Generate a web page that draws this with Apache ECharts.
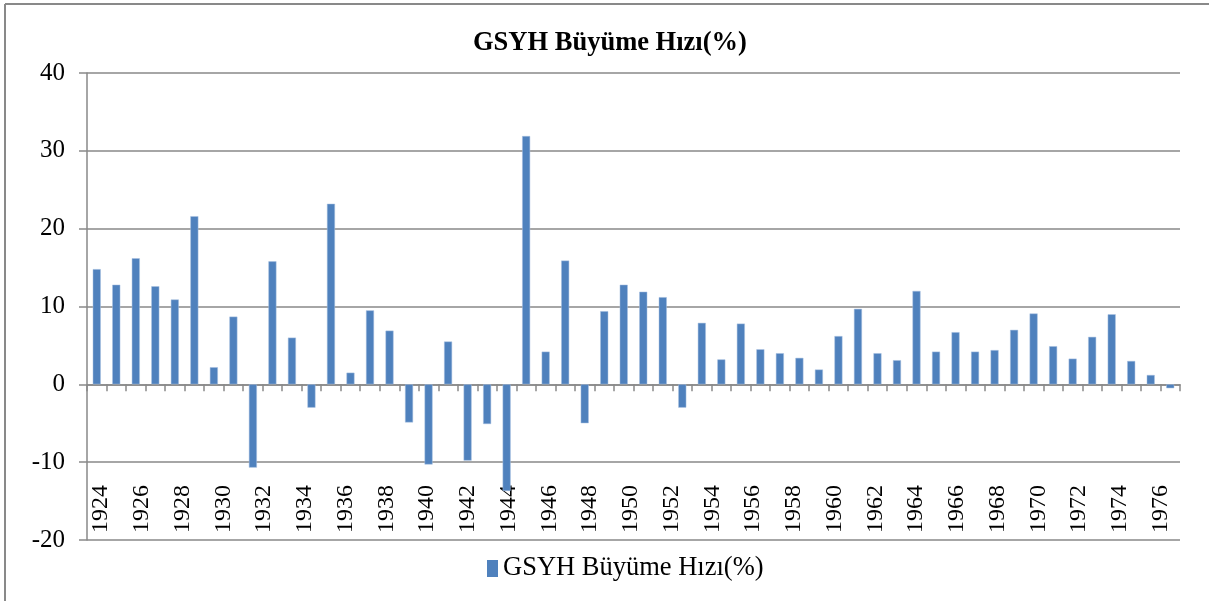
<!DOCTYPE html>
<html>
<head>
<meta charset="utf-8">
<script src="https://cdn.jsdelivr.net/npm/echarts@6/dist/echarts.min.js"></script>
<style>
html,body{margin:0;padding:0;background:#fff;}
#chart{width:1209px;height:601px;}
</style>
</head>
<body>
<div id="chart"></div>
<script>
// Bar categories (one bar per year)
var years = ['1924','1925','1926','1927','1928','1929','1930','1931','1932','1933',
  '1934','1935','1936','1937','1938','1939','1940','1941','1942','1943',
  '1944','1945','1946','1947','1948','1949','1950','1951','1952','1953',
  '1954','1955','1956','1957','1958','1959','1960','1961','1962','1963',
  '1964','1965','1966','1967','1968','1969','1970','1971','1972','1973',
  '1974','1975','1976','1977','1978','1979'];
// GSYH Büyüme Hızı (%)
var growth = [14.8, 12.8, 16.2, 12.6, 10.9, 21.6, 2.2, 8.7, -10.7, 15.8,
  6.0, -3.0, 23.2, 1.5, 9.5, 6.9, -4.9, -10.3, 5.5, -9.8,
  -5.1, -13.7, 31.9, 4.2, 15.9, -5.0, 9.4, 12.8, 11.9, 11.2,
  -3.0, 7.9, 3.2, 7.8, 4.5, 4.0, 3.4, 1.9, 6.2, 9.7,
  4.0, 3.1, 12.0, 4.2, 6.7, 4.2, 4.4, 7.0, 9.1, 4.9,
  3.3, 6.1, 9.0, 3.0, 1.2, -0.5];
// Category tick labels as printed on the chart (every other one shown)
var labelYears = ['1924','1925','1926','1927','1928','1929','1930','1931','1932','1933',
  '1934','1935','1936','1937','1938','1939','1940','1941','1942','1943',
  '1944','1945','1946','1947','1948','1949','1950','1951','1952','1953',
  '1954','1955','1956','1957','1958','1959','1960','1961','1962','1963',
  '1964','1965','1966','1967','1968','1969','1970','1971','1972','1973',
  '1974','1975','1976','1977'];
var seriesName = 'GSYH Büyüme Hızı(%)';
var titleText = 'GSYH Büyüme Hızı(%)';

var FONT = '"Liberation Serif", "Times New Roman", serif';
var GRAY = '#898989';

var chart = echarts.init(document.getElementById('chart'), null, {renderer: 'canvas'});
chart.setOption({
  animation: false,
  backgroundColor: '#ffffff',
  title: {
    text: titleText,
    left: 473,
    top: 30,
    padding: 0,
    textStyle: {fontFamily: FONT, fontWeight: 'bold', fontSize: 26.5, color: '#000'}
  },
  legend: {
    data: [seriesName],
    left: 487,
    top: 555,
    padding: 0,
    icon: 'rect',
    itemWidth: 11,
    itemHeight: 17,
    itemStyle: {borderWidth: 0},
    textStyle: {fontFamily: FONT, fontSize: 26.5, color: '#000'}
  },
  graphic: [
    {type: 'line', shape: {x1: 5, y1: 4, x2: 1209, y2: 4}, style: {stroke: GRAY, lineWidth: 2}, silent: true},
    {type: 'line', shape: {x1: 5, y1: 4, x2: 5, y2: 601}, style: {stroke: GRAY, lineWidth: 2}, silent: true}
  ],
  grid: [
    {left: 87, right: 29, top: 73, bottom: 61, containLabel: false},
    {left: 91, right: 18, top: 73, bottom: 61, containLabel: false}
  ],
  xAxis: [
    {
      type: 'category',
      gridIndex: 0,
      data: years,
      boundaryGap: true,
      axisLine: {show: true, onZero: true, lineStyle: {color: GRAY, width: 1.5}},
      axisTick: {show: true, interval: 0, length: 7, lineStyle: {color: GRAY, width: 1.5}},
      axisLabel: {show: false},
      splitLine: {show: false}
    },
    {
      type: 'category',
      gridIndex: 1,
      data: labelYears,
      position: 'bottom',
      boundaryGap: true,
      axisLine: {show: false},
      axisTick: {show: false},
      axisLabel: {
        show: true, interval: 1, rotate: 90, inside: true, margin: 7,
        fontFamily: FONT, fontSize: 24, color: '#000'
      },
      splitLine: {show: false}
    }
  ],
  yAxis: [
    {
      type: 'value',
      gridIndex: 0,
      min: -20,
      max: 40,
      interval: 10,
      axisLine: {show: true, lineStyle: {color: GRAY, width: 1.5}},
      axisTick: {show: true, length: 8, lineStyle: {color: GRAY, width: 1.5}},
      axisLabel: {fontFamily: FONT, fontSize: 25, color: '#000', margin: 22},
      splitLine: {show: true, lineStyle: {color: GRAY, width: 1.5}}
    },
    {
      type: 'value',
      gridIndex: 1,
      min: -20,
      max: 40,
      show: false
    }
  ],
  series: [
    {
      name: seriesName,
      type: 'bar',
      xAxisIndex: 0,
      yAxisIndex: 0,
      data: growth,
      barWidth: 8,
      itemStyle: {color: '#4F81BD', borderColor: '#a9c1e0', borderWidth: 0.5}
    }
  ]
});
</script>
</body>
</html>
